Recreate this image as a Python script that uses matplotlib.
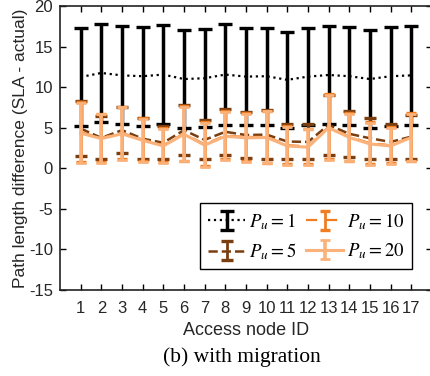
import numpy as np
import matplotlib
matplotlib.use("Agg")
import matplotlib.pyplot as plt

plt.rcParams['font.family'] = ['Liberation Sans', 'DejaVu Sans']
plt.rcParams['mathtext.fontset'] = 'stix'
plt.rcParams['axes.unicode_minus'] = False

nodes = np.arange(1, 18)

# P_u = 1
mean_p1 = [11.25, 11.75, 11.45, 11.35, 11.55, 11.0, 11.1, 11.55, 11.3, 11.35,
           10.9, 11.3, 11.5, 11.35, 11.0, 11.35, 11.45]
err_p1 = [6.0, 6.05, 6.05, 6.1, 6.1, 6.0, 6.05, 6.2, 6.0, 6.0,
          5.95, 6.0, 6.0, 6.05, 6.0, 6.1, 6.1]
# P_u = 5
mean_p5 = [4.9, 3.75, 4.7, 3.65, 3.15, 4.7, 3.5, 4.5, 4.1, 4.15,
           3.3, 3.25, 5.35, 4.25, 3.7, 3.25, 3.9]
err_p5 = [3.4, 2.65, 2.8, 2.55, 2.05, 3.1, 2.4, 2.8, 2.8, 3.05,
          2.2, 2.15, 3.65, 2.85, 2.5, 2.15, 2.7]
# P_u = 10
mean_p10 = [4.45, 3.75, 4.35, 3.55, 2.85, 4.3, 2.95, 4.05, 3.85, 3.9,
            2.85, 2.7, 5.1, 3.9, 3.1, 2.85, 3.9]
err_p10 = [3.7, 3.0, 3.25, 2.65, 2.1, 3.35, 2.7, 2.95, 2.95, 3.2,
           2.35, 2.2, 4.0, 2.95, 2.6, 2.25, 2.95]
# P_u = 20
mean_p20 = [4.33, 3.66, 4.25, 3.45, 2.75, 4.2, 2.85, 3.95, 3.75, 3.8,
            2.75, 2.6, 5.0, 3.8, 3.0, 2.75, 3.8]
err_p20 = [3.73, 3.0, 3.25, 2.65, 2.1, 3.35, 2.7, 2.95, 2.95, 3.2,
           2.35, 2.2, 4.0, 2.95, 2.6, 2.25, 2.95]

labels = [r'$P_u = 1$', r'$P_u = 5$', r'$P_u = 10$', r'$P_u = 20$']

C_BLACK = 'black'
C_BROWN = '#7a3e10'
C_ORANGE = '#f07d22'
C_LIGHT = '#fbb27a'
TXT = '#262626'

fig = plt.figure(figsize=(4.3, 3.76), dpi=100)
ax = fig.add_axes([0.1395, 0.2287, 0.865, 0.7553])

ax.errorbar(nodes, mean_p1, yerr=err_p1, fmt='', linestyle=':', color=C_BLACK,
            lw=1.6, elinewidth=2.5, capsize=5, capthick=2.4, zorder=2, label=labels[0])
ax.errorbar(nodes, mean_p5, yerr=err_p5, fmt='', linestyle='--', color=C_BROWN,
            lw=1.8, elinewidth=2.0, capsize=4, capthick=2.4, zorder=3, label=labels[1])
ax.errorbar(nodes, mean_p10, yerr=err_p10, fmt='', linestyle=(0, (5, 4)), color=C_ORANGE,
            lw=1.6, elinewidth=2.0, capsize=3.5, capthick=2.4, zorder=4, label=labels[2])
ax.errorbar(nodes, mean_p20, yerr=err_p20, fmt='', linestyle='-', color=C_LIGHT,
            lw=2.2, elinewidth=2.6, capsize=3.5, capthick=2.0, zorder=5, label=labels[3])

ax.set_xlim(0, 18)
ax.set_ylim(-15, 20)
ax.set_xticks(nodes)
ax.set_yticks(np.arange(-15, 21, 5))
ax.tick_params(direction='in', length=4, width=1, top=True, right=True,
               labelsize=12, labelcolor=TXT)
ax.tick_params(axis='x', pad=8)
ax.tick_params(axis='y', pad=5)
for s in ax.spines.values():
    s.set_linewidth(1.2)
    s.set_color('#222222')

ax.set_xlabel('Access node ID', fontsize=13, labelpad=4, color=TXT)
ax.set_ylabel('Path length difference (SLA - actual)', fontsize=12.5, labelpad=1, color=TXT)

leg = ax.legend(ncol=2, loc='lower right', bbox_to_anchor=(0.972, 0.04),
                fontsize=13.5, frameon=True, fancybox=False, framealpha=1,
                edgecolor='black', handlelength=2.0, handletextpad=0.2,
                columnspacing=0.5, borderpad=0.4, labelspacing=0.5)
leg.get_frame().set_linewidth(1.0)

fig.text(0.563, 0.051, '(b) with migration', ha='center', va='center',
         fontsize=15.5, family='Liberation Serif')

fig.savefig('out.png', dpi=100)
